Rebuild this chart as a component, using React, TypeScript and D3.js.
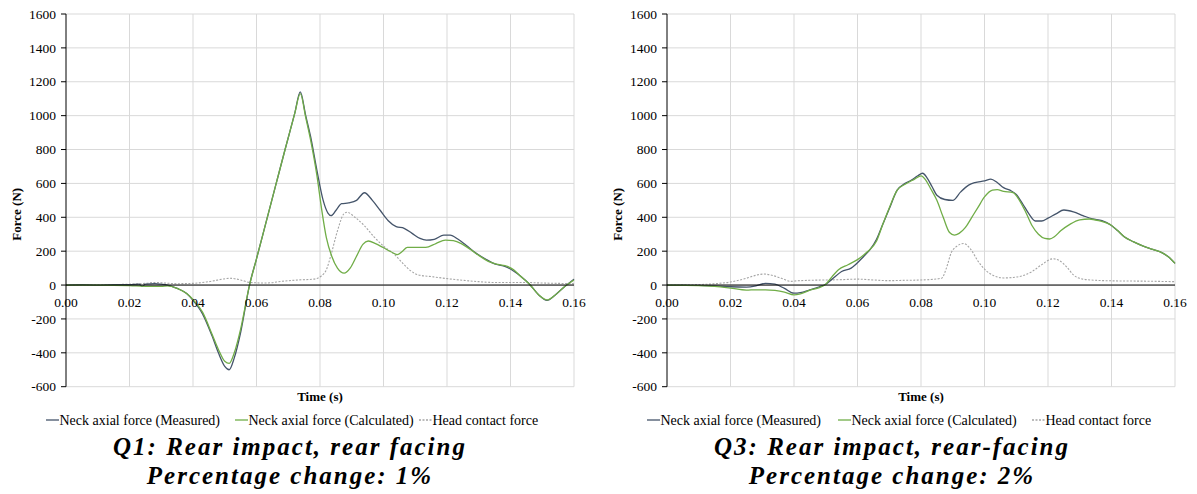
import React from "react";
import * as d3 from "d3";

type Pt = [number, number];

const xTicks = [0, 0.02, 0.04, 0.06, 0.08, 0.1, 0.12, 0.14, 0.16];
const yTicks = [-600, -400, -200, 0, 200, 400, 600, 800, 1000, 1200, 1400, 1600];
const legendLabels = [
  "Neck axial force (Measured)",
  "Neck axial force (Calculated)",
  "Head contact force",
];

const q1Measured: Pt[] = [
  [0, 0], [0.005, 2], [0.01, 0], [0.015, 3], [0.02, 2], [0.023, 5], [0.024, -8], [0.025, 6],
  [0.028, 8], [0.03, 5], [0.032, 0], [0.035, -20], [0.038, -50], [0.04, -90], [0.043, -170],
  [0.046, -300], [0.048, -400], [0.05, -480], [0.0514, -500], [0.053, -430], [0.055, -280],
  [0.0578, 0], [0.06, 155], [0.063, 370], [0.066, 585], [0.069, 800], [0.072, 1010],
  [0.0738, 1140], [0.0755, 1000], [0.077, 880], [0.079, 680], [0.081, 500], [0.0825, 425],
  [0.0835, 410], [0.085, 440], [0.0868, 480], [0.089, 485], [0.0915, 500], [0.094, 545],
  [0.0965, 500], [0.099, 440], [0.1015, 380], [0.104, 345], [0.1065, 335], [0.109, 305],
  [0.1115, 275], [0.1135, 265], [0.116, 270], [0.119, 295], [0.121, 295], [0.1235, 270],
  [0.126, 235], [0.129, 190], [0.132, 155], [0.135, 125], [0.138, 112], [0.14, 95],
  [0.143, 55], [0.146, 5], [0.149, -60], [0.1515, -90], [0.154, -60], [0.157, -10], [0.16, 35],
];

const q1Calculated: Pt[] = [
  [0, 0], [0.01, 0], [0.02, -3], [0.025, -8], [0.03, -8], [0.032, -5], [0.035, -20],
  [0.038, -50], [0.04, -85], [0.043, -160], [0.046, -290], [0.048, -380], [0.05, -450],
  [0.0514, -462], [0.053, -400], [0.055, -260], [0.0578, 0], [0.06, 155], [0.063, 370],
  [0.066, 585], [0.069, 800], [0.072, 1010], [0.0738, 1130], [0.0755, 990], [0.077, 860],
  [0.079, 650], [0.0805, 450], [0.082, 280], [0.0837, 170], [0.0855, 100], [0.0876, 70],
  [0.0895, 100], [0.0915, 170], [0.0935, 240], [0.0952, 260], [0.0975, 245], [0.1, 220],
  [0.1025, 195], [0.1043, 180], [0.106, 200], [0.1075, 222], [0.11, 222], [0.1133, 222],
  [0.1165, 245], [0.1195, 265], [0.122, 262], [0.1245, 245], [0.127, 215], [0.13, 175],
  [0.133, 140], [0.136, 122], [0.139, 110], [0.141, 90], [0.143, 55], [0.146, 5],
  [0.149, -60], [0.1515, -88], [0.154, -60], [0.157, -10], [0.16, 30],
];

const q1Contact: Pt[] = [
  [0, 0], [0.01, 2], [0.02, 5], [0.025, 10], [0.028, 15], [0.031, 12], [0.035, 8], [0.04, 10],
  [0.045, 20], [0.0518, 40], [0.055, 30], [0.058, 15], [0.063, 12], [0.068, 22], [0.073, 30],
  [0.078, 35], [0.0805, 55], [0.082, 90], [0.0835, 180], [0.0855, 320], [0.0875, 420],
  [0.0885, 430], [0.091, 400], [0.094, 350], [0.097, 285], [0.1, 230], [0.1035, 180],
  [0.106, 130], [0.1085, 85], [0.111, 60], [0.115, 50], [0.12, 38], [0.125, 28], [0.13, 20],
  [0.135, 15], [0.14, 15], [0.145, 15], [0.15, 12], [0.155, 10], [0.16, 8],
];

const q3Measured: Pt[] = [
  [0, 0], [0.005, 0], [0.01, -2], [0.015, -5], [0.02, -10], [0.025, -12], [0.028, -5],
  [0.031, 10], [0.034, 5], [0.037, -20], [0.04, -48], [0.042, -45], [0.045, -28], [0.048, -10],
  [0.05, 5], [0.052, 35], [0.055, 80], [0.058, 100], [0.062, 170], [0.064, 210], [0.066, 270],
  [0.068, 360], [0.07, 450], [0.0725, 560], [0.075, 600], [0.077, 620], [0.079, 645],
  [0.0805, 660], [0.082, 630], [0.0835, 580], [0.085, 530], [0.0875, 505], [0.09, 500],
  [0.0925, 550], [0.095, 590], [0.097, 605], [0.1, 615], [0.102, 625], [0.104, 605],
  [0.106, 575], [0.108, 560], [0.11, 535], [0.112, 480], [0.114, 420], [0.116, 378],
  [0.118, 378], [0.12, 395], [0.1225, 420], [0.125, 443], [0.128, 432], [0.131, 410],
  [0.134, 390], [0.137, 380], [0.14, 352], [0.142, 320], [0.144, 285], [0.147, 255],
  [0.15, 230], [0.153, 210], [0.156, 190], [0.158, 165], [0.16, 128],
];

const q3Calculated: Pt[] = [
  [0, 0], [0.01, -3], [0.015, -8], [0.02, -18], [0.025, -30], [0.028, -28], [0.031, -28],
  [0.034, -32], [0.037, -42], [0.04, -58], [0.042, -52], [0.045, -30], [0.048, -15], [0.05, 5],
  [0.052, 50], [0.054, 90], [0.057, 120], [0.06, 150], [0.063, 195], [0.066, 260], [0.068, 360],
  [0.07, 455], [0.0725, 560], [0.075, 595], [0.078, 625], [0.08, 645], [0.0815, 620],
  [0.083, 570], [0.085, 500], [0.087, 400], [0.089, 310], [0.0905, 295], [0.092, 305],
  [0.094, 340], [0.096, 400], [0.098, 460], [0.1, 520], [0.1025, 560], [0.104, 563],
  [0.106, 553], [0.109, 545], [0.111, 500], [0.113, 430], [0.115, 350], [0.117, 300],
  [0.119, 275], [0.1205, 272], [0.122, 285], [0.124, 320], [0.127, 360], [0.13, 385],
  [0.133, 390], [0.136, 380], [0.14, 352], [0.142, 320], [0.144, 285], [0.147, 255],
  [0.15, 230], [0.153, 210], [0.156, 190], [0.158, 165], [0.16, 128],
];

const q3Contact: Pt[] = [
  [0, 0], [0.01, 3], [0.015, 8], [0.02, 18], [0.025, 40], [0.0285, 60], [0.0305, 65],
  [0.033, 58], [0.036, 40], [0.039, 22], [0.041, 25], [0.045, 28], [0.05, 30], [0.055, 32],
  [0.06, 35], [0.065, 30], [0.07, 26], [0.075, 28], [0.08, 30], [0.0865, 40], [0.088, 100],
  [0.0895, 190], [0.091, 225], [0.0935, 245], [0.0955, 215], [0.098, 140], [0.1005, 85],
  [0.103, 55], [0.106, 42], [0.109, 45], [0.112, 55], [0.115, 80], [0.118, 120],
  [0.1215, 155], [0.1235, 145], [0.126, 105], [0.128, 60], [0.131, 35], [0.135, 28],
  [0.14, 25], [0.15, 23], [0.16, 20],
];

const COLORS = { measured: "#44546A", calculated: "#70AD47", contact: "#A5A5A5" };
const FONT = "'Liberation Serif', 'Times New Roman', serif";

type PanelProps = {
  left: number;
  right: number;
  titleX: number;
  title1: string;
  title2: string;
  measured: Pt[];
  calculated: Pt[];
  contact: Pt[];
  legendX: number[];
};

function Panel(p: PanelProps) {
  const top = 14;
  const bottom = 386.7;
  const x = d3.scaleLinear().domain([0, 0.16]).range([p.left, p.right]);
  const y = d3.scaleLinear().domain([-600, 1600]).range([bottom, top]);
  const line = d3
    .line<Pt>()
    .x((d) => x(d[0]))
    .y((d) => y(d[1]))
    .curve(d3.curveMonotoneX);
  const legendY = 420;
  const legendColors = [COLORS.measured, COLORS.calculated, COLORS.contact];
  return (
    <g fontFamily={FONT}>
      {yTicks.map((t) => (
        <line key={"gy" + t} x1={p.left} x2={p.right} y1={y(t)} y2={y(t)} stroke="#D9D9D9" strokeWidth={1} />
      ))}
      {xTicks.slice(1).map((t) => (
        <line key={"gx" + t} x1={x(t)} x2={x(t)} y1={top} y2={bottom} stroke="#D9D9D9" strokeWidth={1} />
      ))}
      <path d={line(p.contact) || ""} fill="none" stroke={COLORS.contact} strokeWidth={1.1} strokeDasharray="2,1.5" />
      <path d={line(p.measured) || ""} fill="none" stroke={COLORS.measured} strokeWidth={1.3} />
      <path d={line(p.calculated) || ""} fill="none" stroke={COLORS.calculated} strokeWidth={1.3} />
      <line x1={p.left} x2={p.right} y1={y(0)} y2={y(0)} stroke="#000" strokeWidth={1} />
      <line x1={p.left} x2={p.left} y1={top} y2={bottom} stroke="#000" strokeWidth={1} />
      {yTicks.map((t) => (
        <g key={"ty" + t}>
          <line x1={p.left - 5} x2={p.left} y1={y(t)} y2={y(t)} stroke="#000" />
          <text x={p.left - 10} y={y(t)} dy="0.35em" textAnchor="end" fontSize={13.5} fill="#000">
            {t}
          </text>
        </g>
      ))}
      {xTicks.map((t) => (
        <text key={"tx" + t} x={x(t)} y={y(0) + 17} dy="0.35em" textAnchor="middle" fontSize={13.5} fill="#000">
          {t.toFixed(2)}
        </text>
      ))}
      <text
        transform={`translate(${p.left - 50},${y(400) - 3}) rotate(-90)`}
        textAnchor="middle"
        fontSize={13}
        fontWeight="bold"
        dy="0.35em"
      >
        Force (N)
      </text>
      <text x={(p.left + p.right) / 2} y={396} dy="0.35em" textAnchor="middle" fontSize={13} fontWeight="bold">
        Time (s)
      </text>
      {legendLabels.map((lab, i) => (
        <g key={lab}>
          <line
            x1={p.legendX[i]}
            x2={p.legendX[i] + 13}
            y1={legendY}
            y2={legendY}
            stroke={legendColors[i]}
            strokeWidth={1.3}
            strokeDasharray={i === 2 ? "2,1.5" : undefined}
          />
          <text x={p.legendX[i] + 13.5} y={legendY} dy="0.35em" fontSize={14} fill="#000">
            {lab}
          </text>
        </g>
      ))}
      <text
        x={p.titleX}
        y={455}
        textAnchor="middle"
        fontSize={25}
        fontWeight="bold"
        fontStyle="italic"
        letterSpacing={2}
      >
        {p.title1}
      </text>
      <text
        x={p.titleX}
        y={484}
        textAnchor="middle"
        fontSize={25}
        fontWeight="bold"
        fontStyle="italic"
        letterSpacing={2}
      >
        {p.title2}
      </text>
    </g>
  );
}

export default function App() {
  return (
    <svg
      width={1197}
      height={494}
      style={{ position: "absolute", left: 0, top: 0, background: "#fff" }}
    >
      <rect width={1197} height={494} fill="#fff" />
      <Panel
        left={66}
        right={574}
        titleX={290}
        title1="Q1: Rear impact, rear facing"
        title2="Percentage change: 1%"
        measured={q1Measured}
        calculated={q1Calculated}
        contact={q1Contact}
        legendX={[46, 235, 419]}
      />
      <Panel
        left={667}
        right={1175}
        titleX={892}
        title1="Q3: Rear impact, rear-facing"
        title2="Percentage change: 2%"
        measured={q3Measured}
        calculated={q3Calculated}
        contact={q3Contact}
        legendX={[647, 838, 1032]}
      />
    </svg>
  );
}
